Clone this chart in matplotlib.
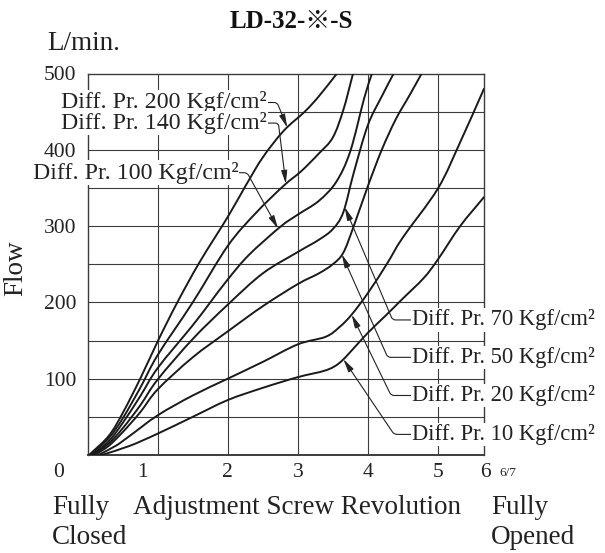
import numpy as np
import matplotlib.pyplot as plt
from matplotlib.path import Path
from matplotlib.patches import PathPatch

# flow curves: screw revolution vs flow (L/min)
x_200 = [0.02, 0.3, 0.5, 0.75, 1.0, 1.28, 1.6, 2.0, 2.25, 2.5, 2.8, 3.1, 3.3, 3.56]
y_200 = [0, 25, 55, 100, 149, 200, 253, 312, 352, 390, 425, 450, 470, 500]

x_140 = [0.04, 0.3, 0.5, 0.75, 1.0, 1.5, 2.0, 2.4, 2.8, 3.05, 3.3, 3.5, 3.65, 3.79]
y_140 = [0, 22, 48, 88, 131, 200, 274, 317, 353, 372, 395, 416, 452, 500]

x_100 = [0.06, 0.3, 0.5, 0.75, 1.0, 1.5, 1.75, 2.0, 2.3, 2.75, 3.0, 3.3, 3.55, 3.75, 3.95, 4.06]
y_100 = [0, 18, 42, 77, 114, 170, 200, 230, 262, 299, 315, 333, 358, 398, 468, 500]

x_70 = [0.08, 0.3, 0.5, 0.75, 1.0, 1.5, 2.0, 2.5, 3.0, 3.3, 3.5, 3.65, 3.8, 4.0, 4.2, 4.37]
y_70 = [0, 15, 35, 65, 99, 152, 197, 238, 266, 282, 296, 318, 370, 432, 470, 500]

x_50 = [0.1, 0.3, 0.5, 0.75, 1.0, 1.5, 2.0, 2.5, 3.0, 3.3, 3.5, 3.65, 3.8, 4.0, 4.2, 4.4, 4.6, 4.77]
y_50 = [0, 12, 30, 56, 86, 128, 162, 195, 224, 238, 250, 265, 300, 352, 400, 440, 472, 500]

x_20 = [0.15, 0.4, 0.6, 1.0, 1.5, 2.0, 2.5, 3.0, 3.4, 3.6, 3.77, 4.0, 4.27, 4.5, 5.0, 5.32, 5.66]
y_20 = [0, 12, 25, 52, 78, 100, 122, 145, 155, 168, 184, 212, 250, 285, 349, 410, 480]

x_10 = [0.2, 0.6, 1.0, 1.5, 2.0, 2.5, 3.0, 3.4, 3.6, 3.8, 4.0, 4.27, 4.5, 4.8, 5.0, 5.32, 5.66]
y_10 = [0, 12, 28, 50, 72, 88, 102, 111, 121, 140, 160, 184, 205, 232, 256, 300, 338]

curves = [(x_200, y_200), (x_140, y_140), (x_100, y_100), (x_70, y_70),
          (x_50, y_50), (x_20, y_20), (x_10, y_10)]

labels = ['Diff. Pr. 200 Kgf/cm²', 'Diff. Pr. 140 Kgf/cm²', 'Diff. Pr. 100 Kgf/cm²',
          'Diff. Pr. 70 Kgf/cm²', 'Diff. Pr. 50 Kgf/cm²', 'Diff. Pr. 20 Kgf/cm²',
          'Diff. Pr. 10 Kgf/cm²']
arrow_x = [2.85, 2.83, 2.72, 3.67, 3.63, 3.77, 3.65]
text_pos = [(2.56, 462), (2.56, 435), (2.15, 370), (4.63, 177), (4.63, 128), (4.63, 78), (4.63, 27)]
leader_angle = [112, 97, 119, -67, -66, -64, -56]

x_ticks = ['0', '1', '2', '3', '4', '5', '6']
x_tick_pos = [-0.41, 0.78, 2.0, 3.0, 4.0, 5.0, 5.68]
y_ticks = [100, 200, 300, 400, 500]

serif = ['Liberation Serif', 'DejaVu Serif']
ink = '#222222'
grid_c = '#3c3c3c'


def smooth_path(x, y):
    # catmull-rom spline through the read points, drawn as bezier segments
    p = np.column_stack([x, y]).astype(float)
    ext = np.vstack([2 * p[0] - p[1], p, 2 * p[-1] - p[-2]])
    verts = [p[0]]
    codes = [Path.MOVETO]
    for i in range(1, len(ext) - 2):
        c1 = ext[i] + (ext[i + 1] - ext[i - 1]) / 6
        c2 = ext[i + 1] - (ext[i + 2] - ext[i]) / 6
        verts += [c1, c2, ext[i + 1]]
        codes += [Path.CURVE4] * 3
    return Path(verts, codes)


fig = plt.figure(figsize=(6.05, 5.53), dpi=100)
ax = fig.add_axes([87.7 / 605, 1 - 455 / 553, (484 - 87.7) / 605, (455 - 73.5) / 553])
ax.set_xlim(0, 5.66)
ax.set_ylim(0, 500)

for v in np.arange(50, 500, 50):
    ax.axhline(v, color=grid_c, lw=0.8, zorder=1)
for v in [1, 2, 3, 4, 5]:
    ax.axvline(v, color=grid_c, lw=0.8, zorder=1)
for s in ax.spines.values():
    s.set_color(grid_c)
    s.set_linewidth(1.0)
ax.spines['bottom'].set_linewidth(1.4)

for cx, cy in curves:
    ax.add_patch(PathPatch(smooth_path(cx, cy), fill=False, ec='#1a1a1a', lw=1.4,
                           joinstyle='round', capstyle='round', zorder=3, clip_on=True))

ax.set_xticks([])
ax.set_yticks(y_ticks)
ax.set_yticklabels([str(v) for v in y_ticks], family=serif, fontsize=15.5, color=ink)
ax.tick_params(axis='y', length=0, pad=8)

tr = ax.get_xaxis_transform()
for lab, p in zip(x_ticks, x_tick_pos):
    ax.text(p, -0.047, lab, transform=tr, ha='center', va='center',
            family=serif, fontsize=15.5, color=ink)
ax.text(6.0, -0.047, '6/7', transform=tr, ha='center', va='center',
        family=serif, fontsize=9.5, color=ink)

for i, (lab, (tx, ty)) in enumerate(zip(labels, text_pos)):
    cx, cy = curves[i]
    tip = (arrow_x[i], np.interp(arrow_x[i], cx, cy))
    left = tx < 4
    ax.annotate(lab, xy=tip, xytext=(tx, ty),
                ha='right' if left else 'left', va='center',
                family=serif, fontsize=17.2 if left else 16.3, color=ink, zorder=5,
                bbox=dict(boxstyle='square,pad=0.05', fc='white', ec='none'),
                arrowprops=dict(arrowstyle='-|>,head_length=0.8,head_width=0.18',
                                mutation_scale=10, color=ink, lw=0.8,
                                shrinkA=0, shrinkB=0,
                                relpos=(1, 0.5) if left else (0, 0.5),
                                connectionstyle='angle,angleA=0,angleB=%d,rad=3' % leader_angle[i]))

fig.text(291 / 605, 1 - 22 / 553, 'LD-32-※-S', ha='center', va='center',
         family=['Liberation Serif', 'Noto Sans CJK JP'], fontweight='bold', fontsize=18, color='#111111')
fig.text(47 / 605, 1 - 43 / 553, 'L/min.', ha='left', va='center',
         family=serif, fontsize=19.5, color=ink)
fig.text(16 / 605, 1 - 268 / 553, 'Flow', rotation=90, ha='center', va='center',
         family=serif, fontsize=19.5, color=ink)
fig.text(52 / 605, 1 - 507 / 553, 'Fully', ha='left', va='center', family=serif, fontsize=19.5, color=ink)
fig.text(52 / 605, 1 - 537 / 553, 'Closed', ha='left', va='center', family=serif, fontsize=19.5, color=ink)
fig.text(133 / 605, 1 - 507 / 553, 'Adjustment Screw Revolution', ha='left', va='center',
         family=serif, fontsize=19.5, color=ink)
fig.text(491 / 605, 1 - 507 / 553, 'Fully', ha='left', va='center', family=serif, fontsize=19.5, color=ink)
fig.text(491 / 605, 1 - 537 / 553, 'Opened', ha='left', va='center', family=serif, fontsize=19.5, color=ink)

fig.savefig('out.png', dpi=100)
